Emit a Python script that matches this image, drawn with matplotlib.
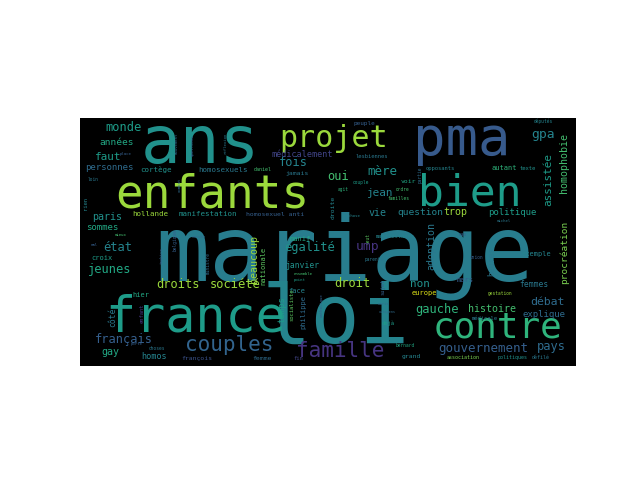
import matplotlib
matplotlib.use("Agg")
import matplotlib.pyplot as plt

# word cloud content: word, relative size (em in px), viridis shade
words = ["mariage", "loi", "ans", "pma", "enfants", "france", "bien", "contre",
         "projet", "couples", "famille", "gouvernement", "pays",
         "monde", "années", "faut", "personnes", "cortège", "homosexuels",
         "daniel", "fois", "jamais", "paris", "hollande", "manifestation",
         "homosexuel anti", "sommes", "beaucoup", "nationale", "état",
         "égalité", "croix", "jeunes", "janvier", "manif", "droits",
         "société", "hier", "face", "temps", "côté", "philippe", "enfant",
         "socialiste", "français", "gay", "homos", "françois", "femme",
         "fin", "choses", "porte", "rien", "loin", "place", "mieux", "mal",
         "marche", "belgique", "ministre", "taubira", "point", "ensemble",
         "mouvement", "questions", "réflexion", "combat",
         "peuple", "députés", "gpa", "assistée", "homophobie", "mère", "oui",
         "lesbiennes", "opposants", "autant", "texte", "voir", "couple",
         "jean", "ordre", "agit", "familles", "partie", "droite", "question",
         "trop", "politique", "vie", "chose", "michel", "veut",
         "manifestants", "cas", "adoption", "heures", "ump", "parents",
         "union", "exemple", "procréation", "droit", "non", "europe", "mars",
         "femmes", "gestation", "sujet", "gauche", "histoire", "débat",
         "explique", "médicale", "déjà", "marie", "citoyens", "catholique",
         "bernard", "grand", "association", "politiques", "défilé",
         "médicalement"]
sizes = [90, 82, 66, 54, 46, 50, 43, 36,
         30, 21, 21, 12.5, 12,
         12, 9.5, 11, 9, 7.5, 7.5,
         5, 12, 6.5, 10, 7.5, 7.5,
         6.5, 9, 10, 7, 12,
         12, 7, 12, 8, 7, 12,
         12, 7, 7, 9, 8, 7, 5.5,
         5.5, 12, 10, 8.5, 6.5, 6.5,
         5.5, 4.5, 4, 5.5, 4.5, 4, 4, 4,
         4, 4.5, 4.5, 4, 4, 4,
         4, 4, 4, 4,
         6, 4.5, 13, 11, 10, 12.5, 12,
         5.5, 5.5, 7, 5.5, 6.5, 4.5,
         11, 4.5, 4.5, 4.5, 4.5, 6.5, 9.5,
         10, 9, 10, 4, 4, 4.5,
         5.5, 4.5, 10, 8, 13, 4.5,
         4.5, 7, 9.5, 12, 11, 7, 7,
         8, 4.5, 5.5, 12, 10, 11.5,
         9, 5.5, 5.5, 4, 3.5, 4,
         4.5, 6.5, 5, 5, 5,
         8.5]
shades = [0.42, 0.45, 0.5, 0.28, 0.85, 0.55, 0.55, 0.65,
          0.85, 0.32, 0.15, 0.3, 0.35,
          0.55, 0.6, 0.55, 0.35, 0.5, 0.4,
          0.7, 0.45, 0.4, 0.5, 0.85, 0.5,
          0.3, 0.6, 0.85, 0.75, 0.45,
          0.5, 0.55, 0.6, 0.5, 0.6, 0.85,
          0.85, 0.6, 0.45, 0.55, 0.4, 0.35, 0.15,
          0.75, 0.3, 0.6, 0.45, 0.25, 0.35,
          0.2, 0.4, 0.3, 0.45, 0.4, 0.3, 0.7, 0.3,
          0.35, 0.3, 0.35, 0.3, 0.55, 0.7,
          0.35, 0.3, 0.4, 0.35,
          0.3, 0.45, 0.45, 0.55, 0.7, 0.5, 0.7,
          0.4, 0.45, 0.65, 0.5, 0.6, 0.55,
          0.45, 0.7, 0.65, 0.7, 0.35, 0.45, 0.45,
          0.85, 0.55, 0.45, 0.45, 0.4, 0.75,
          0.45, 0.3, 0.4, 0.4, 0.15, 0.4,
          0.3, 0.45, 0.8, 0.85, 0.5, 0.95, 0.3,
          0.4, 0.85, 0.3, 0.65, 0.7, 0.35,
          0.35, 0.4, 0.55, 0.35, 0.35, 0.3,
          0.6, 0.45, 0.8, 0.5, 0.4,
          0.2]

# where the cloud put each word: x, baseline y (or centre if rotated), rotation
layout = [(345, 280, 0), (336, 343, 0), (200, 163, 0), (462, 155, 0),
          (212, 208, 0), (196, 331, 0), (470, 205, 0), (498, 338, 0),
          (334, 147, 0), (229, 351, 0), (340, 357, 0), (483, 352, 0),
          (551, 350, 0),
          (123, 131, 0), (117, 145, 0), (108, 160, 0), (109, 170, 0),
          (156, 172, 0), (223, 172, 0), (263, 171, 0), (293, 166, 0),
          (297, 175, 0), (107, 220, 0), (150, 216, 0), (208, 216, 0),
          (275, 216, 0), (102, 230, 0), (254, 259, 90), (263, 266, 90),
          (118, 251, 0), (310, 251, 0), (102, 260, 0), (110, 273, 0),
          (302, 268, 0), (300, 241, 0), (178, 288, 0), (235, 288, 0),
          (141, 297, 0), (297, 293, 0), (282, 310, 90), (113, 317, 90),
          (303, 312, 90), (142, 313, 90), (292, 305, 90), (124, 343, 0),
          (110, 355, 0), (154, 359, 0), (197, 360, 0), (262, 360, 0),
          (298, 360, 0), (157, 350, 0), (137, 345, 0), (86, 203, 90),
          (93, 181, 0), (126, 155, 0), (121, 236, 0), (94, 246, 0),
          (199, 238, 0), (175, 240, 90), (208, 263, 90), (162, 256, 90),
          (300, 281, 0), (303, 275, 0), (177, 143, 90), (193, 145, 90),
          (225, 143, 90), (180, 185, 90),
          (364, 125, 0), (543, 123, 0), (543, 138, 0), (548, 180, 90),
          (564, 163, 90), (382, 175, 0), (338, 180, 0), (372, 158, 0),
          (440, 170, 0), (504, 170, 0), (528, 170, 0), (408, 183, 0),
          (361, 184, 0), (380, 196, 0), (403, 191, 0), (343, 191, 0),
          (399, 200, 0), (420, 175, 90), (333, 207, 90), (420, 215, 0),
          (455, 215, 0), (512, 215, 0), (378, 216, 0), (355, 217, 0),
          (504, 222, 0), (368, 238, 90), (395, 238, 0), (463, 236, 0),
          (431, 246, 90), (492, 261, 90), (368, 250, 0), (374, 261, 0),
          (476, 259, 0), (536, 256, 0), (564, 252, 90), (352, 287, 0),
          (420, 287, 0), (424, 295, 0), (465, 282, 0), (534, 287, 0),
          (500, 295, 0), (383, 287, 90), (437, 313, 0), (492, 312, 0),
          (547, 305, 0), (544, 317, 0), (485, 320, 0), (388, 325, 0),
          (384, 305, 0), (387, 313, 0), (322, 305, 90), (405, 347, 0),
          (411, 358, 0), (463, 359, 0), (512, 359, 0), (541, 359, 0),
          (302, 157, 0)]

fig = plt.figure(figsize=(6.4, 4.8), dpi=100)
ax = fig.add_axes([80 / 640, (480 - 366) / 480, 496 / 640, 248 / 480])
ax.set_facecolor("black")
ax.set_xlim(80, 576)
ax.set_ylim(366, 118)
ax.set_xticks([]); ax.set_yticks([])
for s in ax.spines.values():
    s.set_visible(False)

cmap = plt.get_cmap("viridis")
for w, em, sh, (x, y, rot) in zip(words, sizes, shades, layout):
    if rot:
        ax.text(x, y, w, rotation=90, ha="center", va="center",
                fontsize=em * 0.72, family="DejaVu Sans Mono",
                color=cmap(sh), clip_on=True)
    else:
        ax.text(x, y, w, ha="center", va="baseline",
                fontsize=em * 0.72, family="DejaVu Sans Mono",
                color=cmap(sh), clip_on=True)

fig.savefig("out.png", dpi=100)
